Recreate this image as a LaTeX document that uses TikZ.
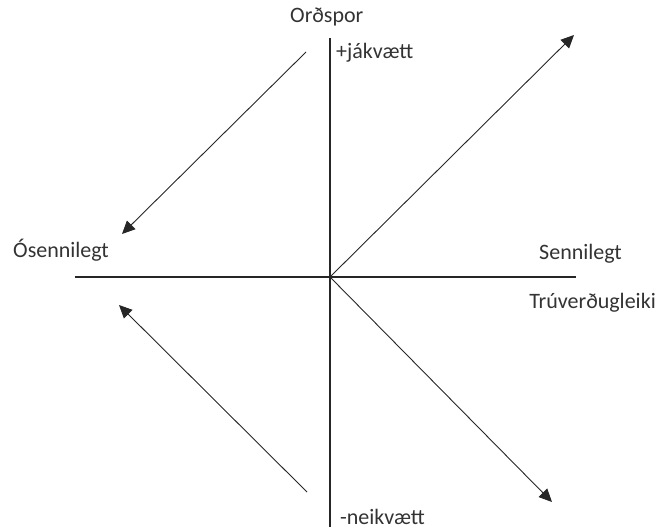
\documentclass[tikz,border=0pt]{standalone}
\usepackage{fontspec}
\setmainfont{Carlito}
\usetikzlibrary{arrows.meta}
\begin{document}
\begin{tikzpicture}[x=1pt,y=-1pt,
  axisline/.style={line width=1.2pt,draw=black!85},
  arr/.style={line width=0.9pt,draw=black!85,-{Triangle[length=13pt,width=12pt]}},
  lbl/.style={inner sep=0pt,anchor=base west,font=\fontsize{22}{25}\selectfont,text=black!80}]
\useasboundingbox (0,0) rectangle (659,530);
\coordinate (O) at (330,277);
\coordinate (top) at (330,38);
\coordinate (bot) at (330,527);
\coordinate (left) at (75,277);
\coordinate (right) at (576,277);
\coordinate (ur) at (574,35);
\coordinate (lr) at (552,502);
\coordinate (ulS) at (306,52);
\coordinate (ulE) at (122,234);
\coordinate (llS) at (307,492);
\coordinate (llE) at (119,305);
\draw[axisline] (top) -- (bot);
\draw[axisline] (left) -- (right);
\draw[arr] (O) -- (ur);
\draw[arr] (O) -- (lr);
\draw[arr] (ulS) -- (ulE);
\draw[arr] (llS) -- (llE);
\node[lbl] (ordspor) at (290,22) {Orðspor};
\node[lbl] (jakv) at (336,58) {+jákvætt};
\node[lbl] (osenn) at (13,257) {Ósennilegt};
\node[lbl] (senn) at (539,259) {Sennilegt};
\node[lbl,anchor=base east] (truv) at (656,308) {Trúverðugleiki};
\node[lbl] (neikv) at (340,524) {-neikvætt};
\end{tikzpicture}
\end{document}
